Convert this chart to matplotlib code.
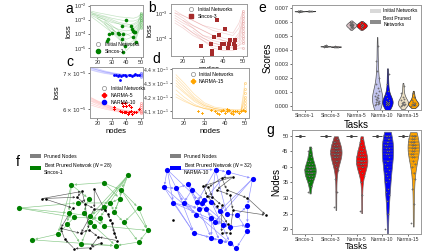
import numpy as np
import matplotlib
matplotlib.use('Agg')
import matplotlib.pyplot as plt
from matplotlib.patches import Patch
from matplotlib.lines import Line2D

plt.rcParams['font.family'] = ['Liberation Sans', 'DejaVu Sans']
plt.rcParams['mathtext.fontset'] = 'dejavusans'

W, H = 448, 252
nan = np.nan

# ---------------- data: loss curves (panels a-d) ----------------
grid_nodes = [16, 20, 25, 30, 35, 40, 45, 48, 50]

# panel a: Sincos-1, log10(loss)
a_curves = [
    [-2.4, -2.5, -2.6, -2.7, -2.8, -2.85, -2.9, -2.8, -2.6],
    [-2.5, -2.6, -2.75, -2.9, -3.0, -3.1, -3.1, -3.0, -2.8],
    [-2.6, -2.8, -3.0, -3.2, -3.3, -3.4, -3.3, -3.1, -2.9],
    [-2.7, -2.9, -3.2, -3.5, -3.7, -3.8, -3.7, -3.4, -3.0],
    [nan, -2.9, -3.3, -3.7, -4.0, -4.1, -3.9, -3.5, -3.1],
    [nan, nan, -3.1, -3.6, -4.1, -4.4, -4.2, -3.7, -3.2],
    [nan, nan, -3.3, -3.9, -4.4, -4.8, -4.5, -3.8, -3.3],
    [-2.8, -3.1, -3.5, -3.9, -4.2, -4.6, -4.9, -4.0, -3.4],
    [nan, nan, nan, -3.6, -4.3, -5.2, -4.7, -3.9, -3.5],
    [-2.5, -2.7, -2.9, -3.1, -3.3, -3.5, -3.6, -3.3, -2.7],
    [-2.6, -2.7, -2.8, -3.0, -3.2, -3.3, -3.4, -3.2, -2.5],
    [nan, -2.8, -3.0, -3.4, -3.8, -4.0, -4.3, -3.6, -3.0],
]
a_init = [-2.5, -2.6, -2.65, -2.7, -2.8, -2.85, -2.9, -3.0, -3.05, -3.1, -3.2, -3.3, -3.4, -3.5, -3.6]
a_best_x = [40, 37.3, 43.1, 44, 44.5, 45, 46, 30, 34.2, 35, 38, 28.4, 44.5, 37.3, 27.5, 26.4, 47, 39, 37.8]
a_best_y = [-3.06, -3.45, -3.45, -3.7, -3.8, -3.85, -3.85, -3.97, -3.97, -4.0, -4.0, -4.03, -4.2, -4.35,
            -4.35, -4.55, -4.6, -4.85, -5.3]

# panel b: Sincos-3, log10(loss)
b_curves = [
    [-2.9, -3.1, -3.3, -3.5, -3.7, -3.8, -3.9, -3.6, -3.0],
    [-3.0, -3.2, -3.5, -3.7, -3.9, -4.0, -4.1, -3.8, -3.2],
    [-3.2, -3.4, -3.6, -3.9, -4.0, -4.1, -4.2, -4.0, -3.4],
    [-3.3, -3.5, -3.8, -4.0, -4.2, -4.3, -4.3, -4.1, -3.6],
    [nan, -3.3, -3.6, -3.9, -4.1, -4.2, -4.35, -4.2, -3.8],
    [nan, nan, -3.7, -4.0, -4.2, -4.3, -4.4, -4.3, -4.0],
    [-3.1, -3.3, -3.5, -3.7, -3.9, -4.1, -4.2, -3.9, -3.3],
    [-3.4, -3.6, -3.9, -4.1, -4.3, -4.4, -4.4, -4.3, -4.2],
    [nan, -3.5, -3.8, -4.1, -4.4, -4.5, -4.5, -4.4, -4.4],
    [-3.0, -3.1, -3.3, -3.5, -3.6, -3.7, -3.8, -3.4, -2.9],
]
b_init = [-2.9, -3.0, -3.1, -3.2, -3.3, -3.4, -3.5, -3.6, -3.7, -3.8, -3.9, -4.0, -4.1, -4.2, -4.4]
b_best_x = [36.9, 40.9, 38.2, 35.6, 43.6, 45.8, 39.6, 40.4, 33.8, 43, 45.5, 28.9, 38.7, 45.8, 42.4, 45.8,
            34.7, 34.7, 34.7]
b_best_y = [-3.28, -3.64, -3.88, -3.96, -4.08, -4.08, -4.24, -4.24, -4.24, -4.24, -4.24, -4.32, -4.4,
            -4.32, -4.4, -4.4, -4.56, -4.62, -4.5]

# panel c: NARMA-5 / NARMA-10 (mantissa x 1e-5)
c_blue_curves = [
    [7.18, 7.12, 7.06, 7.01, 6.98, 6.96, 6.95, 6.95, 6.96],
    [7.15, 7.10, 7.04, 7.00, 6.97, 6.95, 6.94, 6.94, 6.98],
    [7.12, 7.07, 7.02, 6.98, 6.96, 6.94, 6.93, 6.94, 6.95],
    [7.20, 7.15, 7.08, 7.03, 6.99, 6.97, 6.96, 6.96, 6.99],
    [7.10, 7.05, 7.00, 6.97, 6.95, 6.93, 6.93, 6.93, 6.94],
    [7.16, 7.11, 7.05, 7.01, 6.98, 6.96, 6.95, 6.96, 7.00],
]
c_red_curves = [
    [6.25, 6.18, 6.10, 6.03, 5.98, 5.95, 5.93, 5.94, 6.00],
    [6.20, 6.13, 6.06, 6.00, 5.96, 5.93, 5.92, 5.92, 5.97],
    [6.15, 6.09, 6.03, 5.98, 5.94, 5.91, 5.90, 5.91, 5.95],
    [6.30, 6.22, 6.14, 6.06, 6.00, 5.96, 5.94, 5.95, 6.05],
    [6.10, 6.05, 6.00, 5.96, 5.92, 5.90, 5.89, 5.89, 5.93],
    [6.22, 6.16, 6.08, 6.01, 5.97, 5.94, 5.93, 5.93, 6.10],
    [6.28, 6.20, 6.12, 6.05, 5.99, 5.95, 5.93, 5.93, 6.02],
]
c_blue_init = [6.90, 6.92, 6.94, 6.96, 6.98, 7.00, 7.02]
c_red_init = [5.90, 5.93, 5.96, 6.00, 6.05, 6.10, 6.15]
c_n10_x = [31.4, 32.8, 34, 35.2, 36.5, 37.9, 39.4, 40.1, 41.6, 42.6, 43.8, 45.3, 46, 47.3, 48.8, 35.8]
c_n10_y = [6.95, 6.94, 6.93, 6.95, 6.93, 6.95, 6.96, 6.93, 6.95, 6.96, 6.93, 6.95, 6.99, 6.95, 6.95, 6.80]
c_n5_x = [37.3, 39.4, 38, 39.8, 42, 43.5, 35.8, 37.3, 38.7, 39.4, 40.1, 40.9, 41.6, 43.1, 45.3, 46.7, 43.8,
          31.4, 31.4, 48.8]
c_n5_y = [6.17, 6.15, 6.08, 6.08, 6.11, 6.04, 5.96, 5.92, 5.92, 5.91, 5.93, 5.87, 5.92, 5.96, 5.92, 5.93,
          5.87, 6.04, 6.00, 6.01]

# panel d: NARMA-15 (mantissa x 1e-1)
d_curves = [
    [4.36, 4.30, 4.22, 4.16, 4.13, 4.12, 4.11, 4.11, 4.15],
    [4.32, 4.26, 4.19, 4.14, 4.12, 4.11, 4.10, 4.10, 4.20],
    [4.28, 4.23, 4.17, 4.13, 4.11, 4.10, 4.10, 4.10, 4.13],
    [4.25, 4.20, 4.15, 4.12, 4.11, 4.10, 4.09, 4.10, 4.25],
    [4.22, 4.18, 4.14, 4.12, 4.10, 4.10, 4.09, 4.09, 4.11],
    [4.30, 4.24, 4.18, 4.14, 4.12, 4.11, 4.11, 4.11, 4.30],
    [4.34, 4.28, 4.20, 4.15, 4.12, 4.11, 4.10, 4.10, 4.18],
    [4.20, 4.17, 4.14, 4.12, 4.11, 4.10, 4.10, 4.10, 4.12],
]
d_init = [4.10, 4.12, 4.14, 4.16, 4.18, 4.20, 4.23, 4.26, 4.30]
d_best_x = [27, 29, 33, 35, 36, 38, 39, 40, 41, 42, 43, 44, 45, 46, 47, 48, 49, 50, 37, 41, 44]
d_best_y = [4.10, 4.09, 4.11, 4.10, 4.09, 4.10, 4.11, 4.09, 4.10, 4.11, 4.09, 4.08, 4.10, 4.10, 4.09,
            4.10, 4.11, 4.10, 4.08, 4.12, 4.10]

# ---------------- data: scores (panel e) ----------------
tasks = ['Sincos-1', 'Sincos-3', 'Narma-5', 'Narma-10', 'Narma-15']
task_colors = ['#008000', '#a52a2a', '#ff0000', '#0000ff', '#ffa500']
init_colors = ['#b8c8b8', '#c8bcbc', '#d8c0c4', '#c4c6ee', '#ece0c4']
e_init = [
    [0.00680, 0.00679, 0.00681, 0.00680, 0.00682, 0.00678, 0.00680, 0.00681, 0.00679, 0.00683],
    [0.00428, 0.00427, 0.00429, 0.00428, 0.00430, 0.00426, 0.00428, 0.00434, 0.00427],
    [0.00555, 0.00560, 0.00565, 0.00570, 0.00575, 0.00578, 0.00580, 0.00583, 0.00586, 0.00590, 0.00595,
     0.00600, 0.00605, 0.00573, 0.00588],
    [0.00005, 0.00010, 0.00015, 0.00020, 0.00025, 0.00030, 0.00035, 0.00040, 0.00050, 0.00055, 0.00060,
     0.00070, 0.00080, 0.00095, 0.00110, 0.00130, 0.00160, 0.00200, 0.00250, 0.00320, 0.00430],
    [0.00002, 0.00005, 0.00008, 0.00012, 0.00015, 0.00020, 0.00025, 0.00030, 0.00040, 0.00050, 0.00065,
     0.00090, 0.00140],
]
e_best = [
    [0.00681, 0.00680, 0.00681, 0.00682, 0.00680, 0.00681],
    [0.00426, 0.00425, 0.00427, 0.00426, 0.00424, 0.00426],
    [0.00556, 0.00562, 0.00568, 0.00572, 0.00576, 0.00580, 0.00584, 0.00588, 0.00594, 0.00600],
    [0.00003, 0.00006, 0.00010, 0.00014, 0.00018, 0.00022, 0.00026, 0.00030, 0.00035, 0.00042, 0.00055,
     0.00075, 0.00110, 0.00160, 0.00230],
    [0.00002, 0.00004, 0.00006, 0.00009, 0.00012, 0.00016, 0.00022, 0.00030, 0.00045, 0.00060, 0.00090],
]

# ---------------- data: number of nodes (panel g) ----------------
g_initial_nodes = 50
g_best = [
    [32, 34, 35, 36, 36, 37, 37, 38, 38, 38, 39, 39, 39, 40, 40, 40, 41, 41, 42, 42, 43, 44, 45, 46, 37, 38,
     39, 40],
    [27, 32, 36, 39, 40, 41, 42, 42, 43, 43, 44, 44, 44, 45, 45, 45, 46, 46, 46, 47, 47, 48, 48, 49, 43, 44,
     45, 46],
    [26, 31, 35, 37, 38, 39, 40, 40, 41, 41, 41, 42, 42, 42, 43, 43, 44, 44, 45, 45, 46, 47, 48, 49, 41, 42,
     40, 43],
    [20, 25, 29, 31, 33, 35, 36, 37, 38, 39, 40, 41, 42, 42, 43, 44, 44, 45, 45, 46, 46, 47, 47, 48, 48, 49,
     49, 50, 50, 50, 32],
    [22, 28, 33, 36, 38, 40, 41, 42, 43, 43, 44, 44, 45, 45, 46, 46, 46, 47, 47, 47, 48, 48, 48, 49, 49, 50,
     50, 50],
]

# ---------------- data: networks (panel f), layout coordinates ----------------
f1_kept = [(125, 147), (107, 157), (83, 160), (120, 167), (96, 179), (119, 179), (44, 192), (133, 192),
           (107, 190), (81, 199), (92, 199), (115, 198), (85, 205), (97, 203), (122, 212), (97, 212),
           (100, 217), (107, 217), (140, 223), (73, 228), (54, 236), (90, 242), (133, 239), (116, 244),
           (88, 185), (112, 185), (104, 206), (80, 214)]
f1_pruned = [(100, 166), (91, 169), (61, 179), (87, 177), (100, 193), (112, 208), (75, 220), (90, 227),
             (115, 227), (103, 232), (85, 248), (97, 247), (117, 237), (64, 180), (93, 186), (110, 200),
             (113, 213), (78, 235), (96, 222), (108, 195), (84, 192), (105, 240)]
f1_kept_edges = [(0, 8), (0, 11), (0, 13), (0, 15), (0, 26), (0, 3), (1, 2), (1, 3), (2, 9), (2, 4), (3, 7),
                 (3, 5), (5, 11), (6, 9), (6, 12), (6, 24), (7, 18), (7, 14), (8, 13), (9, 27), (10, 16),
                 (11, 14), (12, 19), (13, 17), (14, 22), (15, 21), (16, 23), (17, 18), (19, 20), (20, 23),
                 (21, 23), (22, 23), (24, 25), (25, 11), (26, 17), (27, 21), (18, 22), (4, 10), (5, 25),
                 (1, 5), (3, 18), (12, 26), (9, 13), (2, 19)]
f1_pruned_edges = [(2, 1), (2, 3), (13, 20), (1, 14), (3, 14), (0, 4), (14, 4), (4, 19), (19, 15), (15, 5),
                   (5, 16), (16, 8), (8, 12), (12, 9), (9, 11), (11, 10), (10, 17), (17, 6), (6, 7), (7, 18),
                   (18, 9), (20, 6), (0, 19), (1, 3), (21, 11), (14, 18), (4, 7), (16, 12)]

f2_kept = [(169, 152), (216, 152), (228, 155), (252, 163), (166, 174), (178, 175), (189, 170), (193, 177),
           (175, 193), (198, 192), (203, 193), (205, 190), (212, 192), (185, 193), (200, 200), (207, 200),
           (220, 203), (227, 207), (237, 208), (247, 197), (197, 208), (212, 212), (215, 217), (223, 220),
           (230, 223), (247, 220), (247, 227), (195, 230), (212, 236), (220, 240), (230, 242), (236, 249)]
f2_pruned = [(233, 161), (222, 162), (204, 172), (209, 174), (217, 177), (227, 177), (208, 185), (213, 186),
             (230, 183), (247, 187), (217, 197), (222, 196), (233, 202), (175, 214), (228, 219), (230, 230),
             (222, 230), (265, 208)]
f2_kept_edges = [(0, 1), (0, 4), (0, 8), (0, 13), (1, 2), (1, 9), (1, 12), (2, 3), (3, 19), (3, 16), (4, 5),
                 (4, 27), (5, 6), (5, 20), (6, 7), (7, 9), (8, 27), (8, 14), (9, 10), (10, 11), (11, 12),
                 (12, 16), (13, 14), (14, 15), (15, 21), (16, 17), (17, 18), (18, 19), (18, 26), (19, 25),
                 (20, 22), (21, 22), (22, 23), (23, 24), (24, 25), (25, 26), (26, 31), (27, 28), (28, 29),
                 (29, 30), (30, 31), (27, 30), (4, 20), (6, 11), (7, 13), (9, 23), (10, 24), (15, 29),
                 (21, 28), (2, 11), (3, 22), (0, 10), (5, 27), (1, 17), (13, 31), (8, 24), (12, 30), (6, 28)]
f2_pruned_edges = [(0, 2), (1, 3), (0, 4), (1, 5), (2, 6), (3, 7), (4, 8), (5, 9), (6, 10), (7, 11), (8, 12),
                   (9, 17), (10, 14), (11, 16), (12, 15), (12, 17), (16, 15), (2, 3), (0, 1), (6, 7)]

# ---------------- figure ----------------
fig = plt.figure(figsize=(W / 100, H / 100), dpi=100)


def add_px(x0, y0, x1, y1):
    return fig.add_axes([x0 / W, 1 - y1 / H, (x1 - x0) / W, (y1 - y0) / H])


def style(ax, ls=4):
    for s in ax.spines.values():
        s.set_color('#9a9a9a')
        s.set_linewidth(0.7)
    ax.tick_params(labelsize=ls, length=1.5, width=0.5, pad=1, colors='#333333')


def lab(x, y, t):
    fig.text(x / W, 1 - y / H, t, fontsize=10, ha='center', va='center')


nodes = np.array(grid_nodes)
LFS = 5.5
LEG = 3.6

# panel a
ax = add_px(90, 5, 143, 57)
style(ax)
for c in a_curves:
    ax.plot(nodes, 10 ** np.array(c), color='#55b055', lw=0.5, alpha=0.35)
ax.plot([50] * len(a_init), 10 ** np.array(a_init), 'o', ms=1.5, mfc='none', mec='#66bb66', mew=0.3)
ax.plot(a_best_x, 10 ** np.array(a_best_y), 'o', ms=2.6, color='#008000', mew=0)
ax.set_yscale('log')
ax.set_ylim(2.2e-6, 1.1e-2)
ax.set_xlim(15, 51.5)
ax.set_yticks([1e-5, 1e-4, 1e-3, 1e-2])
ax.yaxis.set_minor_locator(matplotlib.ticker.NullLocator())
ax.set_xticks([20, 30, 40, 50])
ax.set_xlabel('nodes', fontsize=LFS, labelpad=1)
ax.set_ylabel('loss', fontsize=LFS, labelpad=1)
h = [Line2D([], [], marker='o', ls='', mfc='none', mec='#888888', ms=3, mew=0.5, label='Initial Networks'),
     Line2D([], [], marker='o', ls='', color='#008000', ms=3, label='Sincos-1')]
ax.legend(handles=h, loc='lower left', fontsize=LEG, frameon=False, handletextpad=0.3, borderaxespad=0.2,
          labelspacing=0.4)
lab(69, 9, 'a')

# panel b
ax = add_px(171, 4, 247, 56)
style(ax)
for c in b_curves:
    ax.plot(nodes, 10 ** np.array(c), color='#e08080', lw=0.5, alpha=0.35)
ax.plot([50] * len(b_init), 10 ** np.array(b_init), 'o', ms=1.5, mfc='none', mec='#e09090', mew=0.3)
ax.plot(b_best_x, 10 ** np.array(b_best_y), 's', ms=2.2, color='#a52a2a', mew=0)
ax.set_yscale('log')
ax.set_ylim(10 ** -4.72, 10 ** -2.64)
ax.set_xlim(14, 52)
ax.set_yticks([1e-4, 1e-3])
ax.yaxis.set_minor_locator(matplotlib.ticker.NullLocator())
ax.set_xticks([20, 30, 40, 50])
ax.set_xlabel('nodes', fontsize=LFS, labelpad=1)
ax.set_ylabel('loss', fontsize=LFS, labelpad=1)
h = [Line2D([], [], marker='o', ls='', mfc='none', mec='#888888', ms=3, mew=0.5, label='Initial Networks'),
     Line2D([], [], marker='s', ls='', color='#a52a2a', ms=3, label='Sincos-3')]
ax.legend(handles=h, loc='upper center', fontsize=LEG, frameon=False, handletextpad=0.3, borderaxespad=0.2,
          labelspacing=0.4)
lab(152, 8, 'b')

# panel c
sc = 1e-5
ax = add_px(90, 67, 143, 118)
style(ax)
for c in c_blue_curves:
    ax.plot(nodes, np.array(c) * sc, color='#6666ff', lw=0.5, alpha=0.3)
for c in c_red_curves:
    ax.plot(nodes, np.array(c) * sc, color='#ff6666', lw=0.5, alpha=0.3)
ax.plot([50] * len(c_blue_init), np.array(c_blue_init) * sc, 'o', ms=1.5, mfc='none', mec='#6666ff', mew=0.3)
ax.plot([50] * len(c_red_init), np.array(c_red_init) * sc, 'o', ms=1.5, mfc='none', mec='#ff6666', mew=0.3)
ax.plot(c_n10_x, np.array(c_n10_y) * sc, 'o', ms=2.0, color='#0000ff', mew=0)
ax.plot(c_n5_x, np.array(c_n5_y) * sc, 'P', ms=2.2, color='#ff0000', mew=0)
ax.set_yscale('log')
ax.set_ylim(5.77e-5, 7.2e-5)
ax.set_yticks([6e-5, 7e-5])
ax.set_yticklabels([r'$6\times10^{-5}$', r'$7\times10^{-5}$'])
ax.yaxis.set_minor_locator(matplotlib.ticker.NullLocator())
ax.set_xlim(15, 51.5)
ax.set_xticks([20, 30, 40, 50])
ax.set_xlabel('nodes', fontsize=LFS, labelpad=1)
ax.set_ylabel('loss', fontsize=LFS, labelpad=1)
h = [Line2D([], [], marker='o', ls='', mfc='none', mec='#888888', ms=3, mew=0.5, label='Initial Networks'),
     Line2D([], [], marker='P', ls='', color='#ff0000', ms=3, label='NARMA-5'),
     Line2D([], [], marker='o', ls='', color='#0000ff', ms=3, label='NARMA-10')]
ax.legend(handles=h, loc='center left', fontsize=LEG, frameon=False, handletextpad=0.3, borderaxespad=0.2,
          labelspacing=0.4, bbox_to_anchor=(0.12, 0.45))
lab(70, 62, 'c')

# panel d
sd = 1e-1
ax = add_px(172, 68, 249, 118)
style(ax)
ax.tick_params(axis='y', labelsize=3.4)
for c in d_curves:
    ax.plot(nodes, np.array(c) * sd, color='#ffb733', lw=0.5, alpha=0.4)
ax.plot([50] * len(d_init), np.array(d_init) * sd, 'o', ms=1.5, mfc='none', mec='#ffb733', mew=0.3)
ax.plot(d_best_x, np.array(d_best_y) * sd, 'P', ms=2.0, color='#ffa500', mew=0)
ax.set_yscale('log')
ax.set_ylim(4.055e-1, 4.41e-1)
ax.set_yticks([4.1e-1, 4.2e-1, 4.3e-1, 4.4e-1])
ax.set_yticklabels([r'$4.1\times10^{-1}$', r'$4.2\times10^{-1}$', r'$4.3\times10^{-1}$', r'$4.4\times10^{-1}$'])
ax.yaxis.set_minor_locator(matplotlib.ticker.NullLocator())
ax.yaxis.set_minor_formatter(matplotlib.ticker.NullFormatter())
ax.set_xlim(14, 52)
ax.set_xticks([20, 30, 40, 50])
ax.set_xlabel('nodes', fontsize=LFS, labelpad=1)
h = [Line2D([], [], marker='o', ls='', mfc='none', mec='#888888', ms=3, mew=0.5, label='Initial Networks'),
     Line2D([], [], marker='P', ls='', color='#ffa500', ms=3, label='NARMA-15')]
ax.legend(handles=h, loc='upper center', fontsize=LEG, frameon=False, handletextpad=0.3, borderaxespad=0.4,
          labelspacing=0.4)
lab(156, 59, 'd')


# ---------------- violins ----------------
def kde_violin(ax, data, pos, half, color, edge, cut=1.0, alpha=1.0, sticks=False, pts=True, z=2):
    d = np.asarray(data, float)
    n = len(d)
    sdv = d.std(ddof=1)
    bw = 1.06 * sdv * n ** (-0.2)
    y = np.linspace(d.min() - cut * bw, d.max() + cut * bw, 200)
    dens = np.exp(-0.5 * ((y[:, None] - d[None, :]) / bw) ** 2).sum(1)
    wdt = dens / dens.max() * half
    ax.fill_betweenx(y, pos - wdt, pos + wdt, facecolor=color, edgecolor=edge, lw=0.5, alpha=alpha, zorder=z)
    if sticks:
        wv = np.interp(d, y, wdt)
        ax.hlines(d, pos - wv, pos + wv, color='#666666', lw=0.3, alpha=0.7, zorder=z + 1)
    if pts:
        off = np.array([((i * 7) % 11 - 5) / 5.0 for i in range(n)]) * half * 0.35
        ax.scatter(pos + off, d, s=0.8, facecolor='#888888', edgecolor='#333333', lw=0.2, zorder=z + 2)


xpos = np.arange(len(tasks))

# panel e
ax = add_px(292, 5, 421, 110)
style(ax)
ax.tick_params(axis='x', labelsize=3.6)
for i in range(len(tasks)):
    kde_violin(ax, e_init[i], xpos[i] - 0.2, 0.2, init_colors[i], '#555555', alpha=1.0)
    kde_violin(ax, e_best[i], xpos[i] + 0.2, 0.2, task_colors[i], '#333333', alpha=1.0)
ax.set_xlim(-0.5, 4.5)
ax.set_ylim(-0.0003, 0.00725)
ax.set_yticks(np.arange(0, 0.0071, 0.001))
ax.yaxis.set_major_formatter(matplotlib.ticker.FormatStrFormatter('%.3f'))
ax.set_xticks(xpos)
ax.set_xticklabels(tasks)
ax.set_xlabel('Tasks', fontsize=7, labelpad=1)
ax.set_ylabel('Scores', fontsize=7, labelpad=1)
h = [Patch(facecolor='#d9d9d9', label='Initial Networks'),
     Patch(facecolor='#8c8c8c', label='Best Pruned\nNetworks')]
ax.legend(handles=h, loc='upper right', fontsize=LEG, frameon=False, handlelength=2.2, handleheight=0.8,
          handletextpad=0.5, borderaxespad=0.3)
lab(262, 8, 'e')

# panel g
ax = add_px(292, 130, 421, 234)
style(ax)
ax.tick_params(axis='x', labelsize=3.6)
for i in range(len(tasks)):
    ax.hlines(g_initial_nodes, xpos[i] - 0.4, xpos[i], color='#444444', lw=0.7, zorder=3)
    ax.plot(xpos[i] - 0.2, g_initial_nodes, 'o', ms=1.2, color='#444444', zorder=4)
    kde_violin(ax, g_best[i], xpos[i] + 0.2, 0.22, task_colors[i], '#666666', cut=0.3, sticks=True)
ax.set_xlim(-0.5, 4.5)
ax.set_ylim(18.5, 51.8)
ax.set_yticks([20, 25, 30, 35, 40, 45, 50])
ax.set_xticks(xpos)
ax.set_xticklabels(tasks)
ax.set_xlabel('Tasks', fontsize=6.5, labelpad=0)
ax.set_ylabel('Nodes', fontsize=7, labelpad=1)
lab(270, 130, 'g')


# ---------------- panel f: networks ----------------
def draw_net(region, lims, kept, pruned, kept_edges, pruned_edges, color, ecolor):
    axn = add_px(*region)
    axn.set_xlim(lims[0], lims[1])
    axn.set_ylim(lims[3], lims[2])
    axn.axis('off')
    kept = np.array(kept, float)
    pruned = np.array(pruned, float)
    for (i, j) in kept_edges:
        axn.annotate('', xy=kept[j], xytext=kept[i],
                     arrowprops=dict(arrowstyle='-|>', color=ecolor, lw=0.45, mutation_scale=3,
                                     shrinkA=1.5, shrinkB=2))
    for (i, j) in pruned_edges:
        axn.annotate('', xy=pruned[j], xytext=pruned[i],
                     arrowprops=dict(arrowstyle='-|>', color='#333333', lw=0.45, alpha=0.8,
                                     mutation_scale=3, shrinkA=1, shrinkB=1))
    axn.scatter(kept[:, 0], kept[:, 1], s=14, color=color, zorder=5, lw=0, clip_on=False)
    axn.scatter(pruned[:, 0], pruned[:, 1], s=3.5, color='black', zorder=6, lw=0, clip_on=False)


draw_net((15, 174, 152, 250), (41, 143, 145, 250), f1_kept, f1_pruned, f1_kept_edges, f1_pruned_edges,
         '#008000', '#86c886')
draw_net((160, 168, 268, 250), (162, 267, 150, 251), f2_kept, f2_pruned, f2_kept_edges, f2_pruned_edges,
         '#0000ff', '#8f8fff')

h1 = [Patch(facecolor='#808080', label='Pruned Nodes'),
      Patch(facecolor='#008000', label='Best Pruned Network ($N$ = 28)\nSincos-1')]
fig.legend(handles=h1, loc='upper left', bbox_to_anchor=(28 / W, 1 - 152 / H), fontsize=LEG, frameon=False,
           handlelength=2.2, handleheight=0.8, handletextpad=0.5, labelspacing=0.3, borderaxespad=0)
h2 = [Patch(facecolor='#808080', label='Pruned Nodes'),
      Patch(facecolor='#0000ff', label='Best Pruned Network ($N$ = 32)\nNARMA-10')]
fig.legend(handles=h2, loc='upper left', bbox_to_anchor=(168 / W, 1 - 152 / H), fontsize=LEG, frameon=False,
           handlelength=2.2, handleheight=0.8, handletextpad=0.5, labelspacing=0.3, borderaxespad=0)
lab(18, 162, 'f')

fig.savefig('out.png', dpi=100)
